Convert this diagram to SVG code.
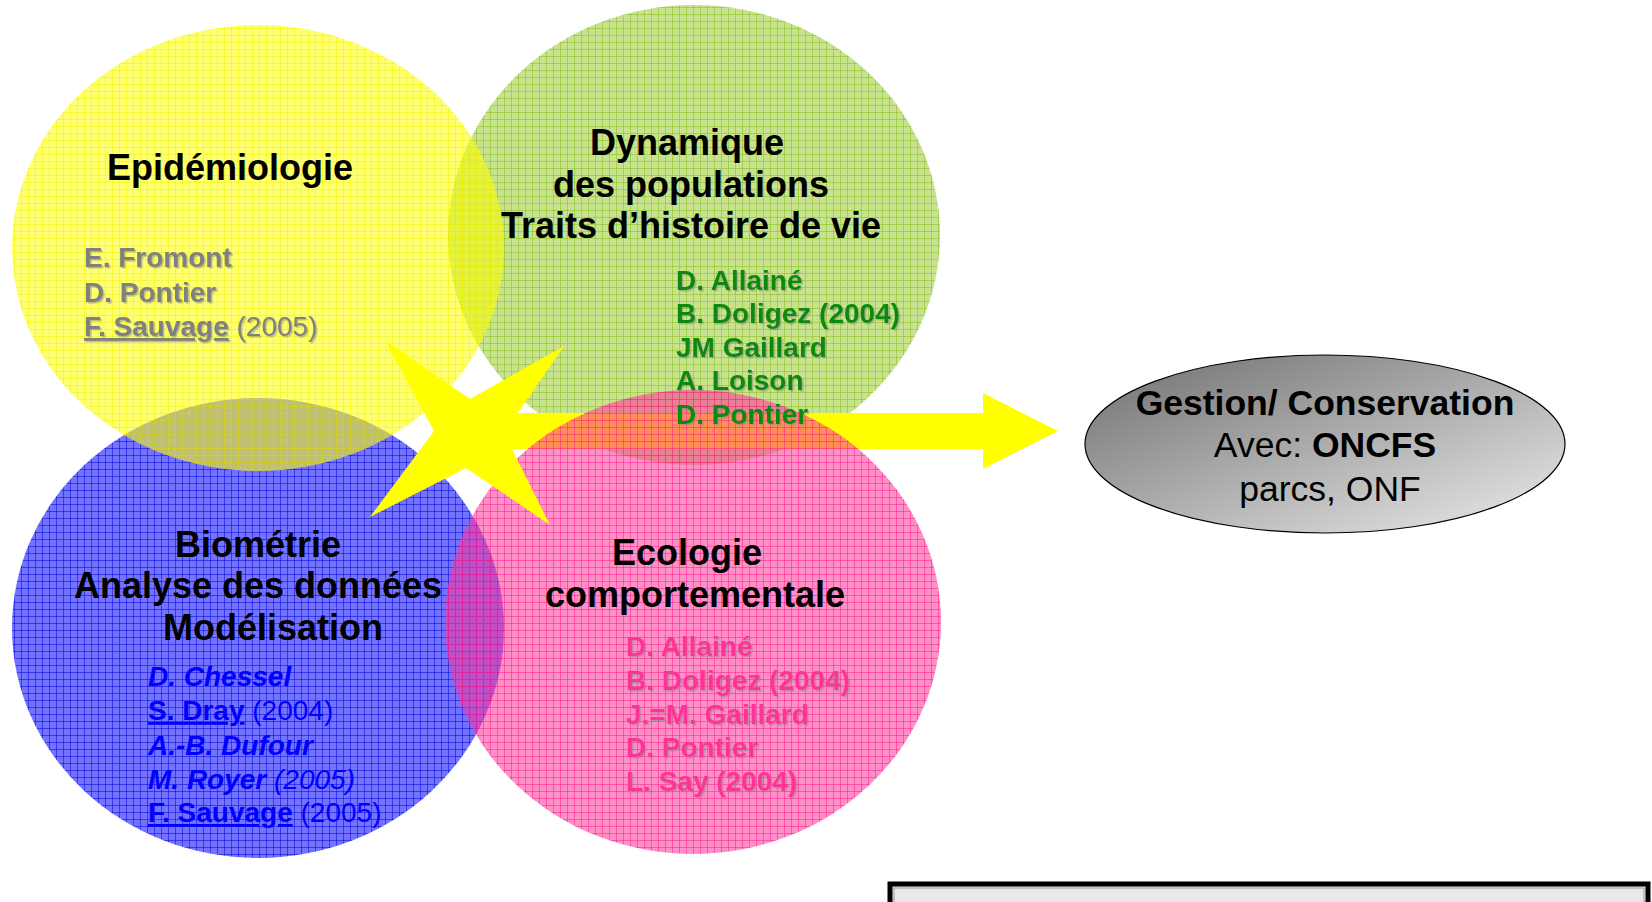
<svg xmlns="http://www.w3.org/2000/svg" width="1652" height="902" viewBox="0 0 1652 902">
<defs>
<style>
text{font-family:"Liberation Sans",Arial,sans-serif}
.h{font-size:36px;font-weight:bold;fill:#000;text-anchor:middle}
.n{font-size:28px;font-weight:bold}
.r{font-weight:normal}
.u{text-decoration:underline}
.it{font-style:italic}
.gray{fill:#808080}
.green{fill:#0c8a0c}
.pink{fill:#ff3399}
.blue{fill:#0000ff}
.g{font-size:35.5px;fill:#000;text-anchor:middle}
</style>
<pattern id="pY" width="7" height="7" patternUnits="userSpaceOnUse">
<rect width="7" height="7" fill="#ffff00" fill-opacity=".55"/>
<path d="M0 .5H7M.5 0V7" stroke="#f2f200" stroke-opacity=".5"/>
</pattern>
<pattern id="pG" width="7" height="7" patternUnits="userSpaceOnUse">
<rect width="7" height="7" fill="#99cc33" fill-opacity=".55"/>
<path d="M0 .5H7M.5 0V7" stroke="#88bb11" stroke-opacity=".5"/>
</pattern>
<pattern id="pB" width="7" height="7" patternUnits="userSpaceOnUse">
<rect width="7" height="7" fill="#0000ff" fill-opacity=".55"/>
<path d="M0 .5H7M.5 0V7" stroke="#0000dd" stroke-opacity=".5"/>
</pattern>
<pattern id="pP" width="7" height="7" patternUnits="userSpaceOnUse">
<rect width="7" height="7" fill="#ff3399" fill-opacity=".55"/>
<path d="M0 .5H7M.5 0V7" stroke="#ff1a88" stroke-opacity=".5"/>
</pattern>
<linearGradient id="gr" x1="0" y1="0" x2="1" y2="1">
<stop offset="0" stop-color="#6e6e6e"/>
<stop offset="1" stop-color="#ececec"/>
</linearGradient>
<filter id="sh" x="-5%" y="-20%" width="110%" height="140%">
<feDropShadow dx="1.5" dy="1.5" stdDeviation="0" flood-color="#888" flood-opacity=".55"/>
</filter>
</defs>
<rect width="1652" height="902" fill="#fff"/>

<g id="circles">
<ellipse id="c-bio" cx="258" cy="628" rx="246" ry="230" fill="url(#pB)"/>
<ellipse id="c-dyn" cx="694" cy="235" rx="246" ry="230" fill="url(#pG)"/>
<ellipse id="c-epi" cx="258" cy="248" rx="246" ry="223" fill="url(#pY)"/>
</g>

<g id="connectors">
<polygon id="arrow" points="470,413 983,413 983,393 1058,431 983,469 983,449 470,449" fill="#ffff00"/>
</g>

<ellipse id="c-eco" cx="693" cy="622" rx="248" ry="232" fill="url(#pP)"/>

<g id="star">
<polygon points="385,340 470,399 564,346 517,414 528,431 512,449 550,525 466,468 370,517 434,431" fill="#ffff00"/>
</g>

<g id="node-epi">
<text class="h" x="230" y="180">Epidémiologie</text>
<g class="n gray" filter="url(#sh)">
<text x="84" y="267">E. Fromont</text>
<text x="84" y="302">D. Pontier</text>
<text x="84" y="336"><tspan class="u">F. Sauvage</tspan><tspan class="r"> (2005)</tspan></text>
</g>
</g>

<g id="node-dyn">
<text class="h" x="687" y="155">Dynamique</text>
<text class="h" x="691" y="197">des populations</text>
<text class="h" x="691" y="238">Traits d’histoire de vie</text>
<g class="n green" filter="url(#sh)">
<text x="676" y="290">D. Allainé</text>
<text x="676" y="323">B. Doligez (2004)</text>
<text x="676" y="357">JM Gaillard</text>
<text x="676" y="390">A. Loison</text>
<text x="676" y="424">D. Pontier</text>
</g>
</g>

<g id="node-bio">
<text class="h" x="258" y="557">Biométrie</text>
<text class="h" x="258" y="598">Analyse des données</text>
<text class="h" x="273" y="640">Modélisation</text>
<g class="n blue">
<text x="148" y="686" class="it">D. Chessel</text>
<text x="148" y="720"><tspan class="u">S. Dray</tspan><tspan class="r"> (2004)</tspan></text>
<text x="148" y="755" class="it">A.-B. Dufour</text>
<text x="148" y="789" class="it">M. Royer<tspan class="r"> (2005)</tspan></text>
<text x="148" y="822"><tspan class="u">F. Sauvage</tspan><tspan class="r"> (2005)</tspan></text>
</g>
</g>

<g id="node-eco">
<text class="h" x="687" y="565">Ecologie</text>
<text class="h" x="695" y="607">comportementale</text>
<g class="n pink" filter="url(#sh)">
<text x="626" y="656">D. Allainé</text>
<text x="626" y="690">B. Doligez (2004)</text>
<text x="626" y="724">J.=M. Gaillard</text>
<text x="626" y="757">D. Pontier</text>
<text x="626" y="791">L. Say (2004)</text>
</g>
</g>

<g id="node-gestion">
<ellipse cx="1325" cy="444" rx="240" ry="89" fill="url(#gr)" stroke="#000" stroke-width="1.2"/>
<text class="g" x="1325" y="415" font-weight="bold">Gestion/ Conservation</text>
<text class="g" x="1325" y="457">Avec: <tspan font-weight="bold">ONCFS</tspan></text>
<text class="g" x="1330" y="501">parcs, ONF</text>
</g>

<g id="box">
<rect x="890" y="884" width="758" height="40" fill="#e8e8e8" stroke="#000" stroke-width="5"/>
<rect x="894" y="888" width="750" height="30" fill="none" stroke="#999" stroke-width="1"/>
</g>
</svg>
